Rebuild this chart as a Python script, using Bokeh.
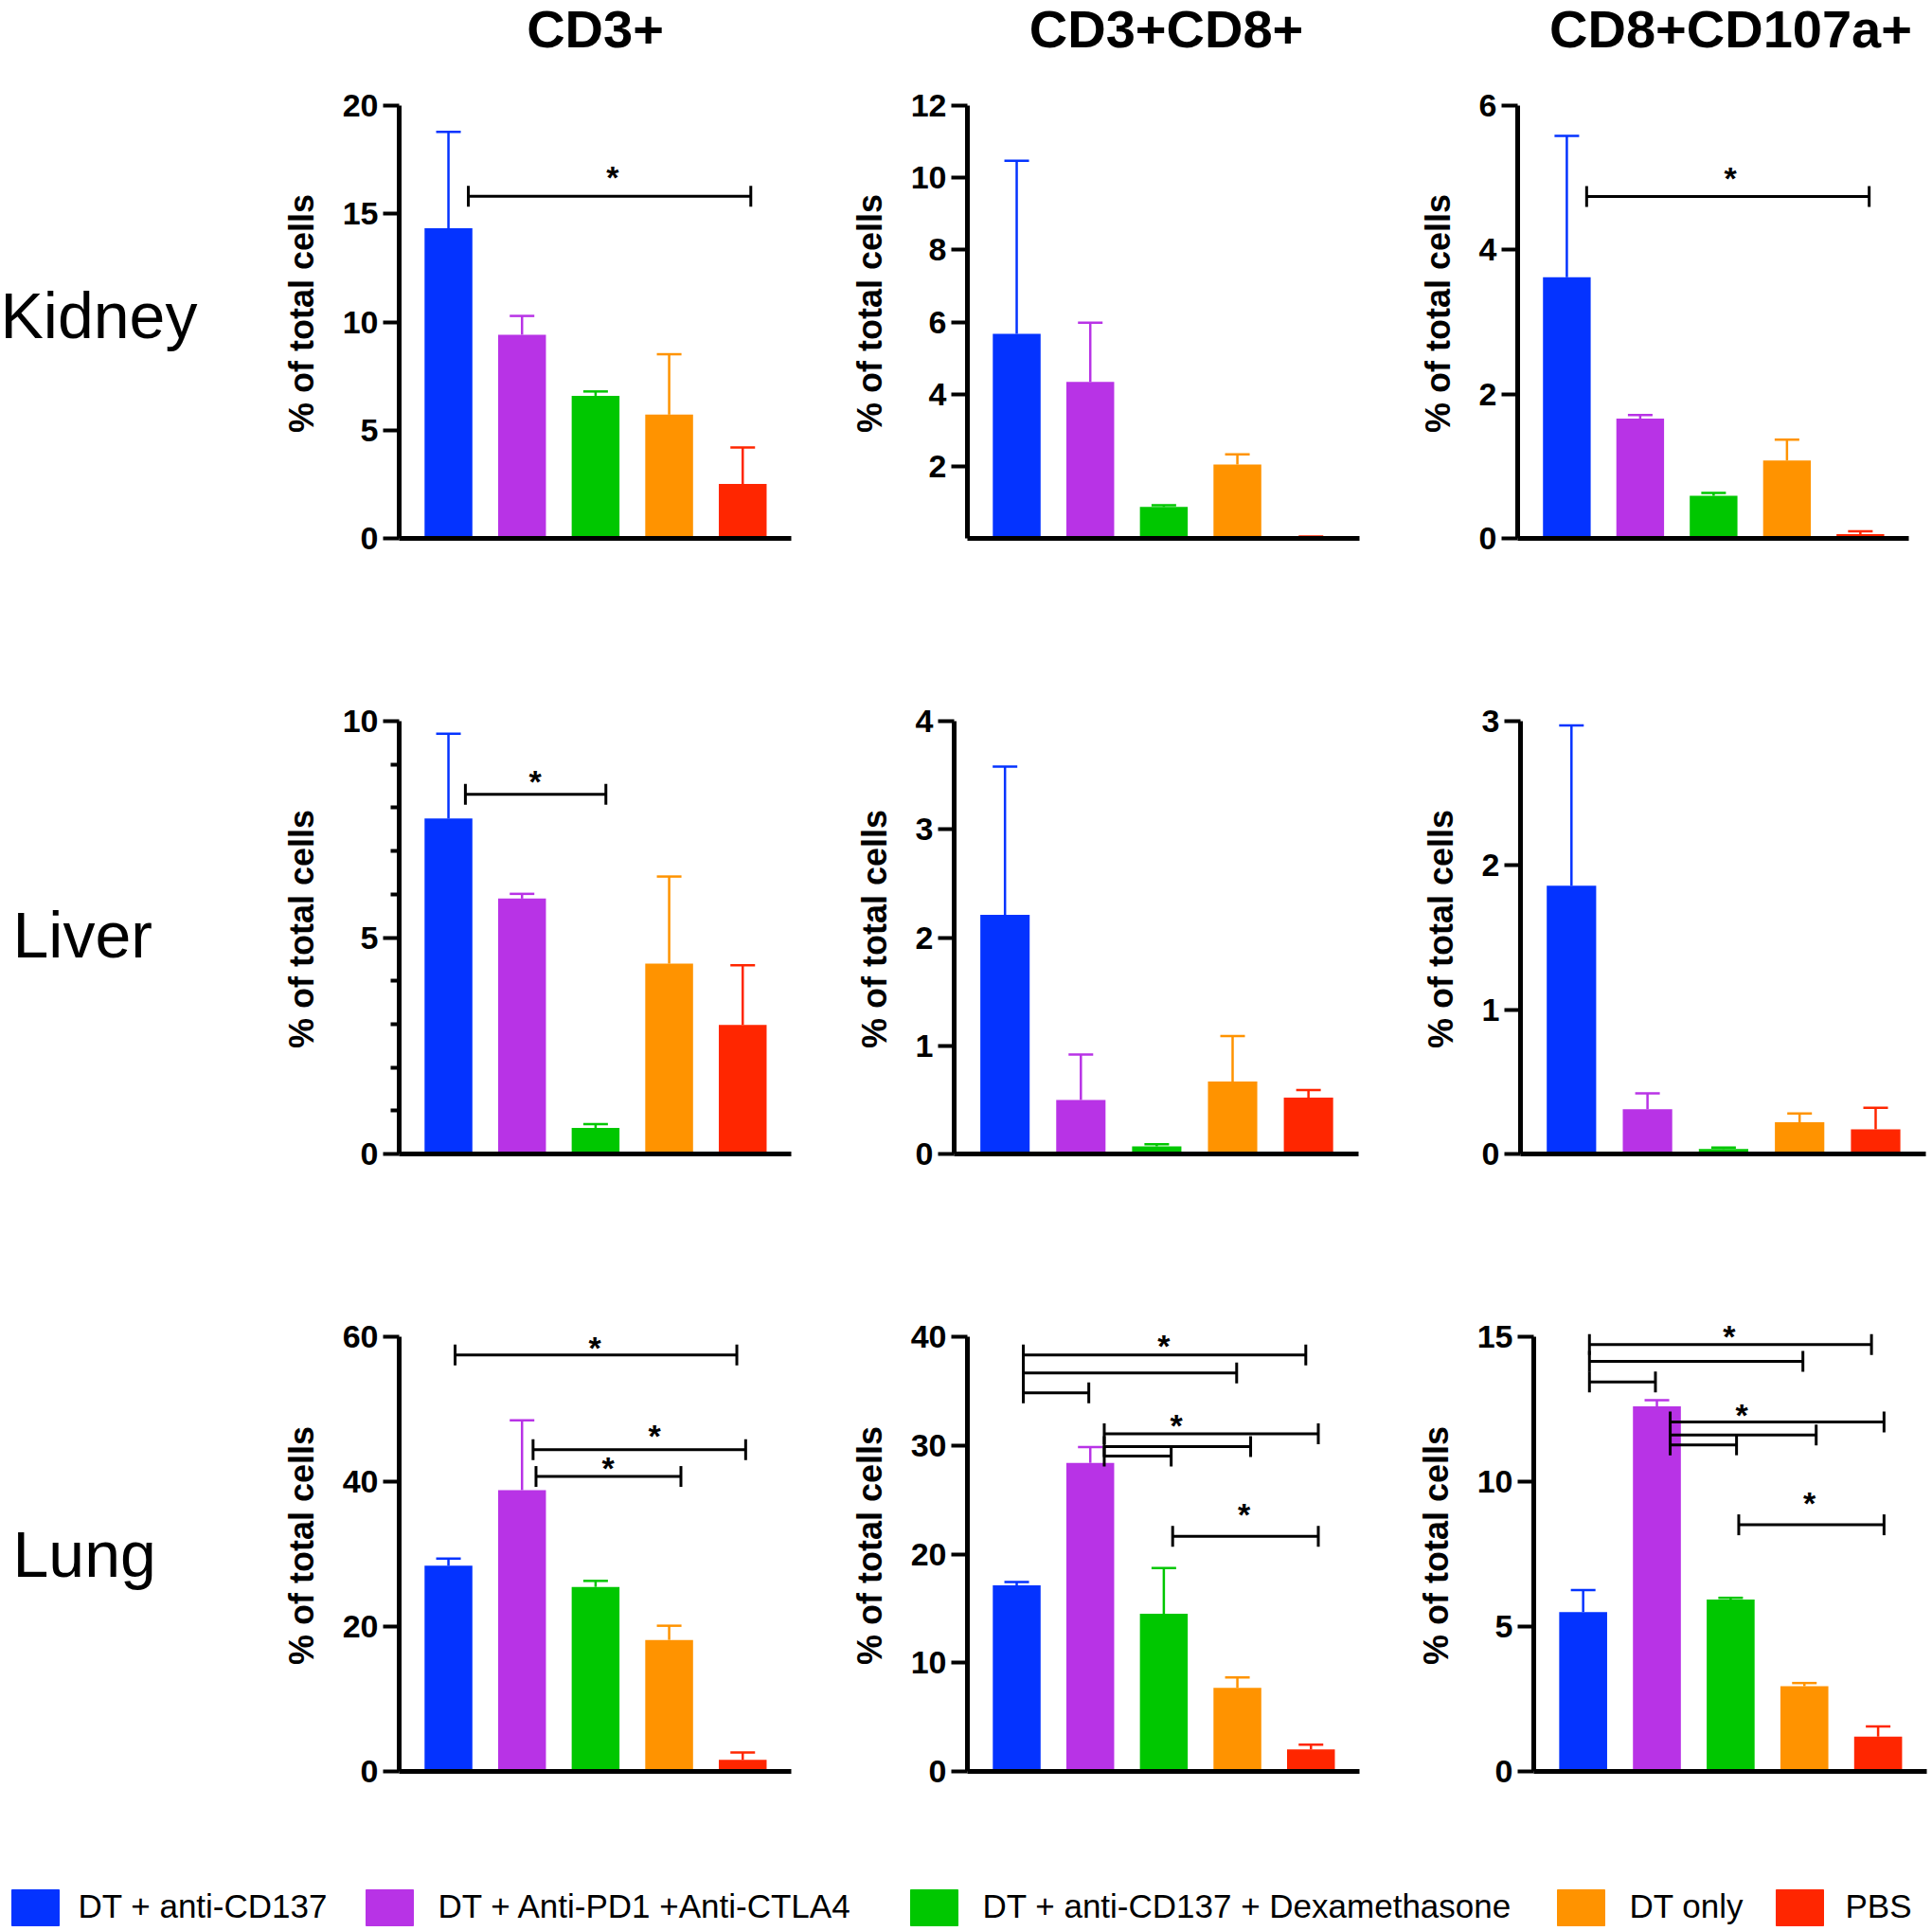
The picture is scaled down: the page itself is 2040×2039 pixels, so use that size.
import math
from bokeh.plotting import figure
from bokeh.models import Range1d, FixedTicker, ColumnDataSource
from bokeh.layouts import column, row
from bokeh.embed import file_html
from bokeh.resources import INLINE
from bokeh.core.properties import value

# ---------------- data ----------------
groups = ["DT + anti-CD137", "DT + Anti-PD1 +Anti-CTLA4",
          "DT + anti-CD137 + Dexamethasone", "DT only", "PBS"]
colors = ["#0433FF", "#B833E6", "#00C700", "#FF9300", "#FF2600"]
markers = ["CD3+", "CD3+CD8+", "CD8+CD107a+"]
tissues = ["Kidney", "Liver", "Lung"]
y_label = "% of total cells"

kidney_cd3_mean = [14.33, 9.41, 6.59, 5.72, 2.52]
kidney_cd3_sem = [4.46, 0.87, 0.20, 2.79, 1.68]
kidney_cd8_mean = [5.67, 4.34, 0.87, 2.05, 0.03]
kidney_cd8_sem = [4.80, 1.64, 0.05, 0.28, 0.02]
kidney_cd107_mean = [3.62, 1.66, 0.59, 1.08, 0.06]
kidney_cd107_sem = [1.96, 0.05, 0.04, 0.29, 0.04]

liver_cd3_mean = [7.75, 5.90, 0.60, 4.40, 2.98]
liver_cd3_sem = [1.96, 0.11, 0.09, 2.01, 1.38]
liver_cd8_mean = [2.21, 0.50, 0.07, 0.67, 0.52]
liver_cd8_sem = [1.37, 0.42, 0.02, 0.42, 0.07]
liver_cd107_mean = [1.86, 0.31, 0.035, 0.22, 0.17]
liver_cd107_sem = [1.11, 0.11, 0.009, 0.06, 0.15]

lung_cd3_mean = [28.39, 38.83, 25.47, 18.15, 1.61]
lung_cd3_sem = [1.00, 9.62, 0.83, 1.96, 1.00]
lung_cd8_mean = [17.13, 28.39, 14.51, 7.69, 2.03]
lung_cd8_sem = [0.29, 1.45, 4.21, 0.96, 0.44]
lung_cd107_mean = [5.50, 12.60, 5.93, 2.94, 1.20]
lung_cd107_sem = [0.76, 0.21, 0.06, 0.11, 0.35]

kidney_cd3_ticks = [0, 5, 10, 15, 20]
kidney_cd8_ticks = [2, 4, 6, 8, 10, 12]
kidney_cd107_ticks = [0, 2, 4, 6]
liver_cd3_ticks = [0, 5, 10]
liver_cd3_minor = [1, 2, 3, 4, 6, 7, 8, 9]
liver_cd8_ticks = [0, 1, 2, 3, 4]
liver_cd107_ticks = [0, 1, 2, 3]
lung_cd3_ticks = [0, 20, 40, 60]
lung_cd8_ticks = [0, 10, 20, 30, 40]
lung_cd107_ticks = [0, 5, 10, 15]

# significance brackets (category units, value units) and stars
kidney_cd3_sig_x0 = [0.27]
kidney_cd3_sig_x1 = [4.11]
kidney_cd3_sig_y = [15.81]
kidney_cd3_star_x = [2.23]
kidney_cd3_star_y = [16.68]

kidney_cd107_sig_x0 = [0.27]
kidney_cd107_sig_x1 = [4.12]
kidney_cd107_sig_y = [4.74]
kidney_cd107_star_x = [2.23]
kidney_cd107_star_y = [5.00]

liver_cd3_sig_x0 = [0.23]
liver_cd3_sig_x1 = [2.14]
liver_cd3_sig_y = [8.31]
liver_cd3_star_x = [1.18]
liver_cd3_star_y = [8.60]

lung_cd3_sig_x0 = [0.09, 1.15, 1.19]
lung_cd3_sig_x1 = [3.92, 4.04, 3.16]
lung_cd3_sig_y = [57.47, 44.41, 40.71]
lung_cd3_star_x = [1.99, 2.80, 2.17]
lung_cd3_star_y = [58.55, 46.37, 41.88]

lung_cd8_sig_x0 = [0.09, 0.09, 0.09, 1.19, 1.19, 1.19, 2.12]
lung_cd8_sig_x1 = [3.93, 2.99, 0.98, 4.10, 3.18, 2.10, 4.10]
lung_cd8_sig_y = [38.32, 36.67, 34.84, 31.07, 29.90, 29.03, 21.63]
lung_cd8_star_x = [2.00, 2.17, 3.09]
lung_cd8_star_y = [39.13, 31.87, 23.66]

lung_cd107_sig_x0 = [0.085, 0.085, 0.085, 1.18, 1.18, 1.18, 2.11]
lung_cd107_sig_x1 = [3.91, 2.98, 0.98, 4.08, 3.16, 2.08, 4.08]
lung_cd107_sig_y = [14.73, 14.15, 13.44, 12.06, 11.61, 11.27, 8.51]
lung_cd107_star_x = [1.98, 2.15, 3.07]
lung_cd107_star_y = [15.02, 12.30, 9.25]

E = []
panels = [
    [dict(mean=kidney_cd3_mean, sem=kidney_cd3_sem, ticks=kidney_cd3_ticks, minor=E,
          sig=(kidney_cd3_sig_x0, kidney_cd3_sig_x1, kidney_cd3_sig_y),
          star=(kidney_cd3_star_x, kidney_cd3_star_y)),
     dict(mean=kidney_cd8_mean, sem=kidney_cd8_sem, ticks=kidney_cd8_ticks, minor=E,
          sig=(E, E, E), star=(E, E)),
     dict(mean=kidney_cd107_mean, sem=kidney_cd107_sem, ticks=kidney_cd107_ticks, minor=E,
          sig=(kidney_cd107_sig_x0, kidney_cd107_sig_x1, kidney_cd107_sig_y),
          star=(kidney_cd107_star_x, kidney_cd107_star_y))],
    [dict(mean=liver_cd3_mean, sem=liver_cd3_sem, ticks=liver_cd3_ticks, minor=liver_cd3_minor,
          sig=(liver_cd3_sig_x0, liver_cd3_sig_x1, liver_cd3_sig_y),
          star=(liver_cd3_star_x, liver_cd3_star_y)),
     dict(mean=liver_cd8_mean, sem=liver_cd8_sem, ticks=liver_cd8_ticks, minor=E,
          sig=(E, E, E), star=(E, E)),
     dict(mean=liver_cd107_mean, sem=liver_cd107_sem, ticks=liver_cd107_ticks, minor=E,
          sig=(E, E, E), star=(E, E))],
    [dict(mean=lung_cd3_mean, sem=lung_cd3_sem, ticks=lung_cd3_ticks, minor=E,
          sig=(lung_cd3_sig_x0, lung_cd3_sig_x1, lung_cd3_sig_y),
          star=(lung_cd3_star_x, lung_cd3_star_y)),
     dict(mean=lung_cd8_mean, sem=lung_cd8_sem, ticks=lung_cd8_ticks, minor=E,
          sig=(lung_cd8_sig_x0, lung_cd8_sig_x1, lung_cd8_sig_y),
          star=(lung_cd8_star_x, lung_cd8_star_y)),
     dict(mean=lung_cd107_mean, sem=lung_cd107_sem, ticks=lung_cd107_ticks, minor=E,
          sig=(lung_cd107_sig_x0, lung_cd107_sig_x1, lung_cd107_sig_y),
          star=(lung_cd107_star_x, lung_cd107_star_y))],
]

# ---------------- geometry / style ----------------
FONT = "Liberation Sans"
HEAD = 18          # px between top tick and frame top
LABEL_W = 280
TOTAL_W = 2036
HEADER_H = 81
rows_geom = [
    dict(fh=475, bt=12, bb=163, cols=[(141, 414, 45), (141, 414, 40), (127, 413, 21)]),
    dict(fh=475, bt=12, bb=163, cols=[(141, 414, 45), (127, 427, 41), (130, 428, 3)]),
    dict(fh=477, bt=12, bb=115, cols=[(141, 414, 45), (141, 414, 40), (144, 415, 2)]),
]
row_label_pos = [(0, 411), (13, 407), (13, 357)]
title_x = [628, 1231, 1827]
title_y = 51
LEG_H = 52
legend_sw_x = [37, 411, 986, 1669, 1900]
legend_tx_x = [82, 462, 1037, 1720, 1948]
legend_sw_y = 23
legend_tx_y = 25


def blank(w, h):
    f = figure(frame_width=w, frame_height=h, min_border=0,
               x_range=Range1d(0, w), y_range=Range1d(0, h),
               x_axis_location=None, y_axis_location=None,
               output_backend="svg", toolbar_location=None)
    f.outline_line_color = None
    f.grid.visible = False
    return f


def panel(d, bl, fw, br, fh, bt, bb):
    top = d["ticks"][-1]
    ymax = top * fh / (fh - HEAD)
    p = figure(frame_width=fw, frame_height=fh,
               min_border_left=bl, min_border_right=br,
               min_border_top=bt, min_border_bottom=bb,
               x_range=Range1d(-0.67, 4.66), y_range=Range1d(0, ymax),
               output_backend="svg", toolbar_location=None)
    p.outline_line_color = None
    p.grid.visible = False

    ya = p.yaxis[0]
    ya.ticker = FixedTicker(ticks=d["ticks"], minor_ticks=d["minor"])
    ya.bounds = (0, top)
    ya.axis_line_width = 5
    ya.axis_line_color = "black"
    ya.major_tick_out = 17
    ya.major_tick_in = 0
    ya.major_tick_line_width = 4
    ya.minor_tick_out = 9
    ya.minor_tick_in = 0
    ya.minor_tick_line_width = 4
    ya.major_label_text_font = FONT
    ya.major_label_text_font_style = "bold"
    ya.major_label_text_font_size = "34px"
    ya.major_label_text_color = "black"
    ya.major_label_standoff = 5
    ya.axis_label = y_label
    ya.axis_label_text_font = FONT
    ya.axis_label_text_font_style = "bold"
    ya.axis_label_text_font_size = "36px"
    ya.axis_label_text_color = "black"
    ya.axis_label_standoff = 20

    xa = p.xaxis[0]
    xa.ticker = FixedTicker(ticks=[])
    xa.axis_line_width = 5
    xa.axis_line_color = "black"
    xa.major_tick_line_color = None
    xa.minor_tick_line_color = None
    xa.major_label_text_font_size = "0px"

    xs = list(range(len(groups)))
    upper = [m + s for m, s in zip(d["mean"], d["sem"])]
    src = ColumnDataSource(dict(x=xs, top=d["mean"], upper=upper, color=colors))
    p.vbar(x="x", top="top", width=0.65, fill_color="color", line_color=None, source=src)
    p.segment(x0="x", y0="top", x1="x", y1="upper", line_color="color", line_width=2.5, source=src)
    p.scatter(x="x", y="upper", marker="dash", size=26, line_color="color", line_width=2.5, source=src)

    x0, x1, y = d["sig"]
    if y:
        p.segment(x0=x0, y0=y, x1=x1, y1=y, line_color="black", line_width=3)
        p.scatter(x=x0 + x1, y=y + y, marker="dash", angle=math.pi / 2, size=22,
                  line_color="black", line_width=3)
    sx, sy = d["star"]
    if sx:
        p.text(x=sx, y=sy, text=["*"] * len(sx), text_align="center",
               text_baseline="alphabetic", text_color="black",
               text_font=value(FONT), text_font_style="bold", text_font_size="34px")
    return p


# header with column titles
header = blank(TOTAL_W, HEADER_H)
header.text(x=title_x, y=[title_y] * 3, text=markers, text_align="center",
            text_baseline="alphabetic", text_color="black",
            text_font=value(FONT), text_font_style="bold", text_font_size="56px")

rows = [header]
for r, geom in enumerate(rows_geom):
    fh, bt, bb = geom["fh"], geom["bt"], geom["bb"]
    h = fh + bt + bb
    lab = blank(LABEL_W, h)
    lx, ly = row_label_pos[r]
    lab.text(x=[lx], y=[ly], text=[tissues[r]], text_align="left",
             text_baseline="alphabetic", text_color="black",
             text_font=value(FONT), text_font_size="68px")
    figs = [lab]
    for c, (bl, fw, br) in enumerate(geom["cols"]):
        figs.append(panel(panels[r][c], bl, fw, br, fh, bt, bb))
    rows.append(row(*figs))

# legend (swatches + labels)
lg = blank(TOTAL_W, LEG_H)
lg.rect(x=legend_sw_x, y=[legend_sw_y] * 5, width=50, height=38,
        fill_color=colors, line_color=colors)
lg.text(x=legend_tx_x, y=[legend_tx_y] * 5, text=groups, text_align="left",
        text_baseline="alphabetic", text_color="black",
        text_font=value(FONT), text_font_size="35px")
rows.append(lg)

layout = column(*rows)
open("out.html", "w").write(file_html(layout, INLINE))
